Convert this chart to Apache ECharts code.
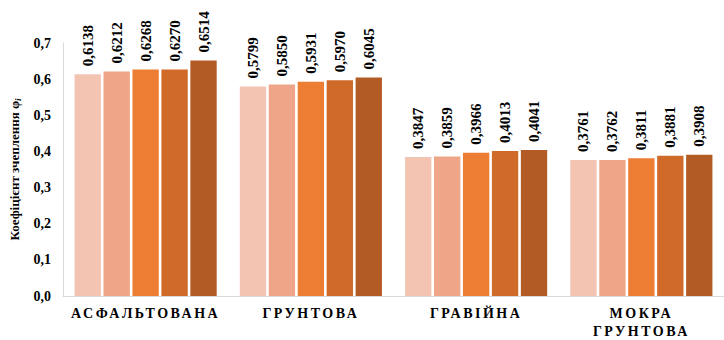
<!DOCTYPE html>
<html>
<head>
<meta charset="utf-8">
<script src="https://cdn.jsdelivr.net/npm/echarts@6/dist/echarts.min.js"></script>
<style>
  html, body { margin: 0; padding: 0; background: #fff; }
  #chart { width: 724px; height: 340px; }
</style>
</head>
<body>
<div id="chart"></div>
<script>
// категорії покриття
const categories = ['АСФАЛЬТОВАНА', 'ГРУНТОВА', 'ГРАВІЙНА', 'МОКРА\nГРУНТОВА']
// значення коефіцієнта для кожної з п'яти серій
const series1 = [0.6138, 0.5799, 0.3847, 0.3761]
const series2 = [0.6212, 0.5850, 0.3859, 0.3762]
const series3 = [0.6268, 0.5931, 0.3966, 0.3811]
const series4 = [0.6270, 0.5970, 0.4013, 0.3881]
const series5 = [0.6514, 0.6045, 0.4041, 0.3908]
const yTicks = [0, 0.1, 0.2, 0.3, 0.4, 0.5, 0.6, 0.7]

const colors = ['#f4c4b2', '#efa587', '#ec7d32', '#cf6a29', '#b35b24']
const font = 'Liberation Serif'

const myChart = echarts.init(document.getElementById('chart'), null, { renderer: 'svg' })

const makeSeries = (name, data, i) => ({
  name: name,
  type: 'bar',
  data: data,
  barGap: '10%',
  barCategoryGap: '14%',
  itemStyle: { color: colors[i] },
  label: {
    show: true,
    position: 'top',
    rotate: 90,
    align: 'left',
    verticalAlign: 'middle',
    distance: 8,
    fontFamily: font,
    fontWeight: 'bold',
    fontSize: 15,
    color: '#000',
    formatter: (p) => p.value.toFixed(4).replace('.', ',')
  }
})

const option = {
  animation: false,
  grid: { left: 63, right: -6, top: 43, bottom: 40, containLabel: false },
  xAxis: {
    type: 'category',
    data: categories,
    axisLine: { show: true, lineStyle: { color: '#d9d9d9', width: 1 } },
    axisTick: { show: false },
    axisLabel: {
      margin: 8,
      fontFamily: font,
      fontWeight: 'bold',
      fontSize: 14,
      lineHeight: 18,
      color: '#000'
    }
  },
  yAxis: {
    type: 'value',
    min: 0,
    max: yTicks[yTicks.length - 1],
    interval: 0.1,
    name: '{a|Коефіцієнт зчеплення φ}{s|i}',
    nameLocation: 'middle',
    nameGap: 41,
    nameTextStyle: {
      rich: {
        a: { fontFamily: font, fontWeight: 'bold', fontSize: 13, color: '#000' },
        s: { fontFamily: font, fontStyle: 'italic', fontWeight: 'bold', fontSize: 9, color: '#000', padding: [6, 0, 0, 0] }
      }
    },
    axisLine: { show: true, lineStyle: { color: '#d9d9d9', width: 1 } },
    axisTick: { show: false },
    splitLine: { show: false },
    axisLabel: {
      margin: 12,
      fontFamily: font,
      fontWeight: 'bold',
      fontSize: 14,
      color: '#000',
      formatter: (v) => v.toFixed(1).replace('.', ',')
    }
  },
  series: [
    makeSeries('s1', series1, 0),
    makeSeries('s2', series2, 1),
    makeSeries('s3', series3, 2),
    makeSeries('s4', series4, 3),
    makeSeries('s5', series5, 4)
  ]
}

myChart.setOption(option)

// розрядка літер у підписах категорій
const lines = categories.join('\n').split('\n')
myChart.getDom().querySelectorAll('text').forEach((t) => {
  if (lines.indexOf(t.textContent) >= 0) {
    t.style.letterSpacing = '2.5px'
  }
})
</script>
</body>
</html>
